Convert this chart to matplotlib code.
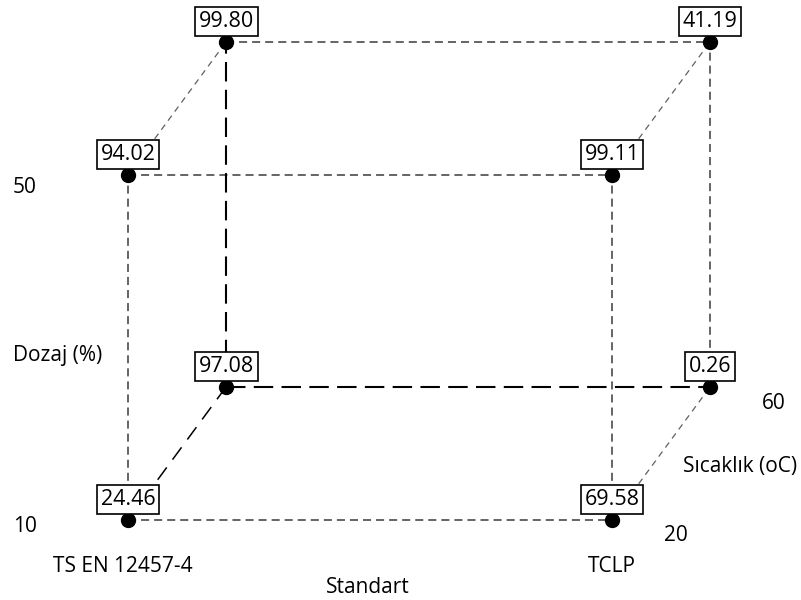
import matplotlib
matplotlib.use('Agg')
import matplotlib.pyplot as plt
import itertools

plt.rcParams['font.family'] = ['Open Sans', 'DejaVu Sans']
plt.rcParams['lines.scale_dashes'] = False

# factor levels
standart = ['TS EN 12457-4', 'TCLP']
sicaklik = [20, 60]
dozaj = [10, 50]

# response at cube corners, keyed by (standart, sicaklik, dozaj) index
cube_values = {
    (0, 0, 0): 24.46, (1, 0, 0): 69.58,
    (0, 0, 1): 94.02, (1, 0, 1): 99.11,
    (0, 1, 0): 97.08, (1, 1, 0): 0.26,
    (0, 1, 1): 99.80, (1, 1, 1): 41.19,
}

# depth (temperature) axis projection
DX, DY = 0.2025, 0.3855


def project(i, j, k):
    return i + j * DX, k + j * DY


fig = plt.figure(figsize=(8.01, 6.0), dpi=100)
ax = fig.add_axes([0, 0, 1, 1])
ax.set_xlim(-0.2645, 1.3905)
ax.set_ylim(-0.2319, 1.5072)
ax.axis('off')

hidden = (0, 1, 0)
front_style = dict(color='#4a4a4a', lw=1.2, ls=(0, (5.8, 3.6)))
depth_style = dict(color='#606060', lw=0.9, ls=(0, (4.5, 3.6)))
hidden_style = dict(color='black', lw=1.5, ls=(0, (14, 6)))

corners = list(itertools.product([0, 1], [0, 1], [0, 1]))
for a, b in itertools.combinations(corners, 2):
    diff = [abs(p - q) for p, q in zip(a, b)]
    if sum(diff) != 1:
        continue
    xa, ya = project(*a)
    xb, yb = project(*b)
    if a == hidden or b == hidden:
        style = hidden_style
        if diff[1] == 1:
            style = dict(hidden_style, lw=1.1, ls=(0, (11, 7)))
    elif diff[1] == 1:
        style = depth_style
    else:
        style = front_style
    ax.plot([xa, xb], [ya, yb], zorder=1, **style)

for (i, j, k), v in cube_values.items():
    x, y = project(i, j, k)
    ax.plot(x, y, 'o', color='black', ms=10, zorder=3)
    ax.annotate(f'{v:.2f}', (x, y), xytext=(0, 7), textcoords='offset points',
                ha='center', va='bottom', fontsize=15.5, zorder=4,
                bbox=dict(boxstyle='square,pad=0.18', fc='white', ec='black', lw=1.2))

fs = 15
# Dozaj axis
ax.text(-0.238, -0.0203, str(dozaj[0]), ha='left', va='center', fontsize=fs)
ax.text(-0.238, 0.965, str(dozaj[1]), ha='left', va='center', fontsize=fs)
ax.text(-0.238, 0.478, 'Dozaj (%)', ha='left', va='center', fontsize=fs)
# Standart axis
ax.text(-0.01, -0.136, standart[0], ha='center', va='center', fontsize=fs)
ax.text(1.0, -0.136, standart[1], ha='center', va='center', fontsize=fs)
ax.text(0.496, -0.197, 'Standart', ha='center', va='center', fontsize=fs)
# Sicaklik axis
ax.text(1.132, -0.046, str(sicaklik[0]), ha='center', va='center', fontsize=fs)
ax.text(1.335, 0.339, str(sicaklik[1]), ha='center', va='center', fontsize=fs)
ax.text(1.264, 0.154, 'Sıcaklık (oC)', ha='center', va='center', fontsize=fs)

fig.savefig('out.png', dpi=100)
